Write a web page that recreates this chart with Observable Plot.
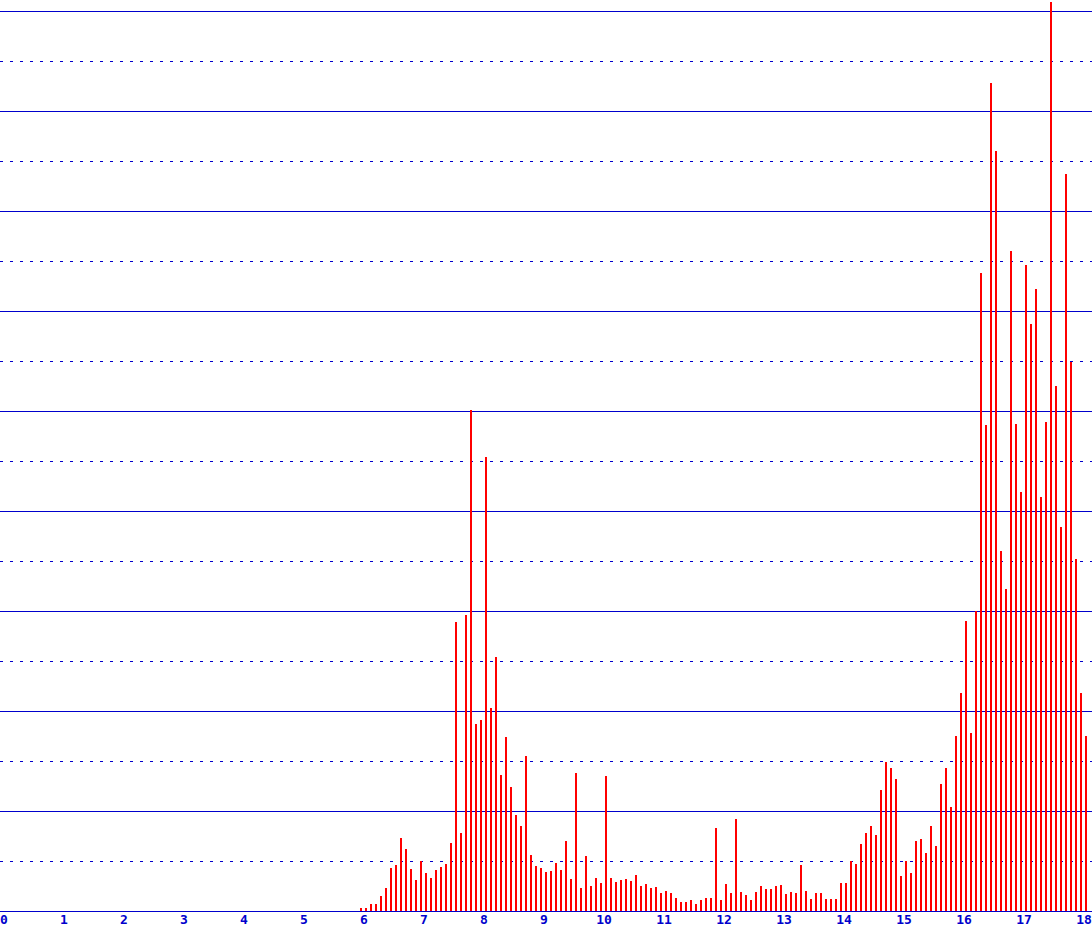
<!DOCTYPE html>
<html>
<head>
<meta charset="utf-8">
<script src="https://cdn.jsdelivr.net/npm/d3@7"></script>
<script src="https://cdn.jsdelivr.net/npm/@observablehq/plot@0.6"></script>
<style>
  html, body { margin: 0; padding: 0; background: #ffffff; overflow: hidden; }
  #chart svg { display: block; }
</style>
</head>
<body>
<div id="chart"></div>
<script>
// First bin starts at x = 6, bins are 1/12 of a unit wide
const binStart = 6;
const binsPerUnit = 12;

// Bar heights (grid units: one dotted/solid grid step = 5)
const values = [
  0.3, 0.3, 0.7, 0.7, 1.5, 2.3, 4.3, 4.6, 7.3, 6.2,
  4.2, 3.1, 5.0, 3.8, 3.3, 4.1, 4.4, 4.7, 6.8, 28.9,
  7.8, 29.6, 50.1, 18.7, 19.1, 45.4, 20.3, 25.4, 13.6, 17.4,
  12.4, 9.6, 8.5, 15.5, 5.6, 4.5, 4.3,
  3.9, 4.0, 4.8, 4.1, 7.0, 3.2, 13.8, 2.3, 5.5, 2.5,
  3.3, 2.8, 13.5, 3.3, 2.9, 3.1, 3.2, 3.0, 3.6, 2.5,
  2.7, 2.3, 2.4, 1.8, 2.0, 1.8, 1.3, 0.9, 0.9, 1.1,
  0.7, 1.1, 1.3, 1.3, 8.3, 1.1, 2.7,
  1.8, 9.2, 1.9, 1.6, 1.1, 1.9, 2.5, 2.2, 2.2, 2.5,
  2.6, 1.7, 1.9, 1.8, 4.6, 2.0, 1.2, 1.8, 1.8, 1.2,
  1.2, 1.2, 2.8, 2.8, 5.0, 4.7, 6.7, 7.8, 8.5, 7.6,
  12.1, 14.9, 14.3, 13.2, 3.5, 5.0, 3.8,
  7.0, 7.2, 5.8, 8.5, 6.5, 12.7, 14.3, 10.4, 17.5, 21.8,
  29.0, 17.8, 30.0, 63.8, 48.6, 82.8, 76.0,
  36.0, 32.2, 66.0, 48.7, 41.9, 64.6, 58.7, 62.2, 41.4, 48.9,
  90.9, 52.5, 38.4, 73.7, 54.9, 35.2, 21.8, 17.5
];

const xTicks = [0, 1, 2, 3, 4, 5, 6, 7, 8, 9, 10, 11, 12, 13, 14, 15, 16, 17, 18];
const gridSolid = [0, 10, 20, 30, 40, 50, 60, 70, 80, 90];
const gridDotted = [5, 15, 25, 35, 45, 55, 65, 75, 85];

const data = values.map((v, i) => ({ x: binStart + i / binsPerUnit, v }));

const W = 1092, H = 931;
const blue = "#0000cc";

const chart = Plot.plot({
  width: W,
  height: H,
  marginLeft: 3.5,
  marginRight: 8.5,
  marginTop: 11,
  marginBottom: 20,
  style: { background: "#ffffff", color: blue, overflow: "visible" },
  x: { domain: [0, 18], axis: null },
  y: { domain: [0, 90], axis: null },
  marks: [
    Plot.ruleY(gridDotted, { stroke: blue, strokeWidth: 1, strokeDasharray: "3,7", insetLeft: -3.5, insetRight: -8.5 }),
    Plot.ruleY(gridSolid, { stroke: blue, strokeWidth: 1, insetLeft: -3.5, insetRight: -8.5 }),
    Plot.ruleX(data, { x: "x", y1: 0, y2: "v", stroke: "#ff0000", strokeWidth: 2, dx: -3 }),
    Plot.axisX(xTicks, {
      label: null,
      tickSize: 0,
      tickPadding: 3,
      tickFormat: d => String(d),
      fill: blue,
      fontSize: 13,
      fontWeight: "bold",
      fontFamily: "DejaVu Sans Mono"
    })
  ]
});

document.getElementById("chart").appendChild(chart);
</script>
</body>
</html>
